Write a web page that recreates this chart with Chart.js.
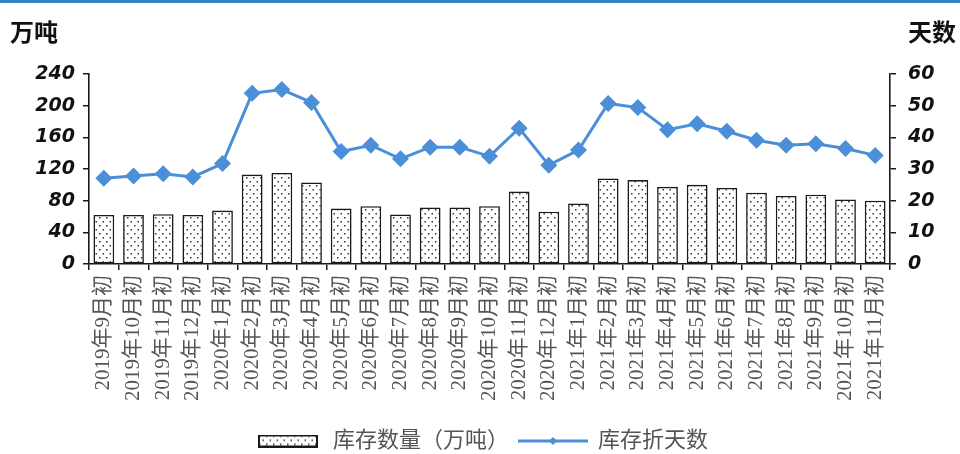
<!DOCTYPE html>
<html>
<head>
<meta charset="utf-8">
<script src="https://cdn.jsdelivr.net/npm/chart.js@4/dist/chart.umd.min.js"></script>
<style>
  html, body { margin: 0; padding: 0; background: #fff; }
  #wrap { width: 960px; height: 454px; position: relative; }
</style>
</head>
<body>
<div id="wrap"><canvas id="c" width="960" height="454"></canvas></div>
<script>
// Monthly opening inventory (10k tonnes) and inventory expressed in days
const categories = [
  '2019年9月初', '2019年10月初', '2019年11月初', '2019年12月初',
  '2020年1月初', '2020年2月初', '2020年3月初', '2020年4月初',
  '2020年5月初', '2020年6月初', '2020年7月初', '2020年8月初',
  '2020年9月初', '2020年10月初', '2020年11月初', '2020年12月初',
  '2021年1月初', '2021年2月初', '2021年3月初', '2021年4月初',
  '2021年5月初', '2021年6月初', '2021年7月初', '2021年8月初',
  '2021年9月初', '2021年10月初', '2021年11月初'
];
const stockVolume = [62, 62, 63, 62, 67.5, 113, 115, 103, 70, 73, 62.5, 71.5, 71.5, 73,
  91.5, 66, 76.5, 108, 106, 97.5, 100, 96, 90, 86, 87.5, 81.5, 80];
const stockDays = [27.1, 27.8, 28.5, 27.5, 31.7, 53.9, 55.1, 51, 35.5, 37.5, 33.2, 36.9, 36.9, 34,
  42.9, 31.2, 36, 50.7, 49.4, 42.4, 44.3, 41.9, 39.1, 37.5, 38, 36.5, 34.3];
const leftTicks = [0, 40, 80, 120, 160, 200, 240];
const rightTicks = [0, 10, 20, 30, 40, 50, 60];
const seriesNames = ['库存数量（万吨）', '库存折天数'];
const axisTitles = ['万吨', '天数'];

const LINE_BLUE = '#4a8fd8';
const INK = '#1a1a1a';
const SERIF = '"Liberation Serif", "Noto Sans CJK SC"';

// dotted fill used for the inventory bars
function makeDotPattern(ctx) {
  const t = document.createElement('canvas');
  t.width = 7; t.height = 8;
  const g = t.getContext('2d');
  g.fillStyle = '#fff';
  g.fillRect(0, 0, 7, 8);
  g.fillStyle = '#333';
  g.fillRect(1, 1, 1.5, 1.5);
  g.fillRect(4.5, 5, 1.5, 1.5);
  return ctx.createPattern(t, 'repeat');
}

const canvas = document.getElementById('c');
const ctx = canvas.getContext('2d');
const dotPattern = makeDotPattern(ctx);

// legend swatches
function barSwatch() {
  const c = document.createElement('canvas');
  c.width = 60; c.height = 13;
  const g = c.getContext('2d');
  g.fillStyle = makeDotPattern(g);
  g.fillRect(0, 0, 60, 13);
  g.strokeStyle = INK; g.lineWidth = 2;
  g.strokeRect(1, 1, 58, 11);
  return c;
}
function lineSwatch() {
  const c = document.createElement('canvas');
  c.width = 70; c.height = 12;
  const g = c.getContext('2d');
  g.strokeStyle = LINE_BLUE; g.lineWidth = 3;
  g.beginPath(); g.moveTo(0, 6); g.lineTo(70, 6); g.stroke();
  g.fillStyle = LINE_BLUE;
  g.beginPath(); g.moveTo(35, 2); g.lineTo(39, 6); g.lineTo(35, 10); g.lineTo(31, 6); g.closePath(); g.fill();
  return c;
}
const swatches = [barSwatch(), lineSwatch()];

// top rule and the two axis unit captions
const decorations = {
  id: 'decorations',
  beforeDraw(chart) {
    const g = chart.ctx;
    g.save();
    g.fillStyle = '#3b82c8';
    g.fillRect(0, 0, chart.width, 3);
    g.restore();
  },
  afterDraw(chart) {
    const g = chart.ctx;
    const a = chart.chartArea;
    g.save();
    g.fillStyle = '#111';
    g.font = 'bold 24px "Noto Sans CJK SC"';
    g.textBaseline = 'middle';
    g.textAlign = 'left';
    g.fillText(axisTitles[0], 10, a.top - 42);
    g.textAlign = 'right';
    g.fillText(axisTitles[1], chart.width - 4, a.top - 42);
    g.restore();
  }
};

new Chart(ctx, {
  data: {
    labels: categories,
    datasets: [
      {
        type: 'line',
        label: seriesNames[1],
        data: stockDays,
        yAxisID: 'y1',
        borderColor: LINE_BLUE,
        backgroundColor: LINE_BLUE,
        borderWidth: 3,
        pointStyle: 'rectRot',
        pointRadius: 8.5,
        pointHoverRadius: 8.5,
        pointBackgroundColor: LINE_BLUE,
        pointBorderColor: LINE_BLUE,
        pointBorderWidth: 0,
        tension: 0,
        order: 1
      },
      {
        type: 'bar',
        label: seriesNames[0],
        data: stockVolume,
        yAxisID: 'y',
        backgroundColor: dotPattern,
        borderColor: INK,
        borderWidth: 1.6,
        borderSkipped: false,
        categoryPercentage: 1,
        barPercentage: 0.7,
        order: 2
      }
    ]
  },
  options: {
    responsive: false,
    animation: false,
    layout: { padding: { top: 74, left: 8, right: 6, bottom: -8 } },
    plugins: {
      tooltip: { enabled: false },
      legend: {
        position: 'bottom',
        labels: {
          usePointStyle: true,
          pointStyleWidth: 68,
          boxHeight: 13,
          color: '#555',
          font: { family: SERIF, size: 22 },
          padding: 10,
          generateLabels() {
            return [0, 1].map(i => ({
              text: seriesNames[i],
              pointStyle: swatches[i],
              fillStyle: '#fff',
              strokeStyle: '#fff',
              lineWidth: 0,
              hidden: false,
              datasetIndex: i === 0 ? 1 : 0,
              fontColor: '#555'
            }));
          }
        }
      }
    },
    scales: {
      x: {
        grid: { display: true, offset: true, drawOnChartArea: false, tickLength: 6, color: INK, lineWidth: 1.5 },
        border: { color: INK, width: 1.6 },
        ticks: {
          autoSkip: false,
          minRotation: 90,
          maxRotation: 90,
          padding: 5,
          color: '#555',
          font: { family: SERIF, size: 21 }
        },
        afterFit(scale) { scale.height = 156; }
      },
      y: {
        position: 'left',
        min: leftTicks[0],
        max: leftTicks[leftTicks.length - 1],
        afterBuildTicks(scale) { scale.ticks = leftTicks.map(v => ({ value: v })); },
        grid: { drawOnChartArea: false, tickLength: 6, color: INK, lineWidth: 1.5 },
        border: { color: INK, width: 1.6 },
        ticks: {
          padding: 8,
          color: '#111',
          font: { family: '"DejaVu Sans"', size: 19, weight: 'bold', style: 'italic' }
        },
        afterFit(scale) { scale.width = 81; }
      },
      y1: {
        position: 'right',
        min: rightTicks[0],
        max: rightTicks[rightTicks.length - 1],
        afterBuildTicks(scale) { scale.ticks = rightTicks.map(v => ({ value: v })); },
        grid: { drawOnChartArea: false, tickLength: 6, color: INK, lineWidth: 1.5 },
        border: { color: INK, width: 1.6 },
        ticks: {
          padding: 12,
          color: '#111',
          font: { family: '"DejaVu Sans"', size: 19, weight: 'bold', style: 'italic' }
        },
        afterFit(scale) { scale.width = 64; }
      }
    }
  },
  plugins: [decorations]
});
</script>
</body>
</html>
